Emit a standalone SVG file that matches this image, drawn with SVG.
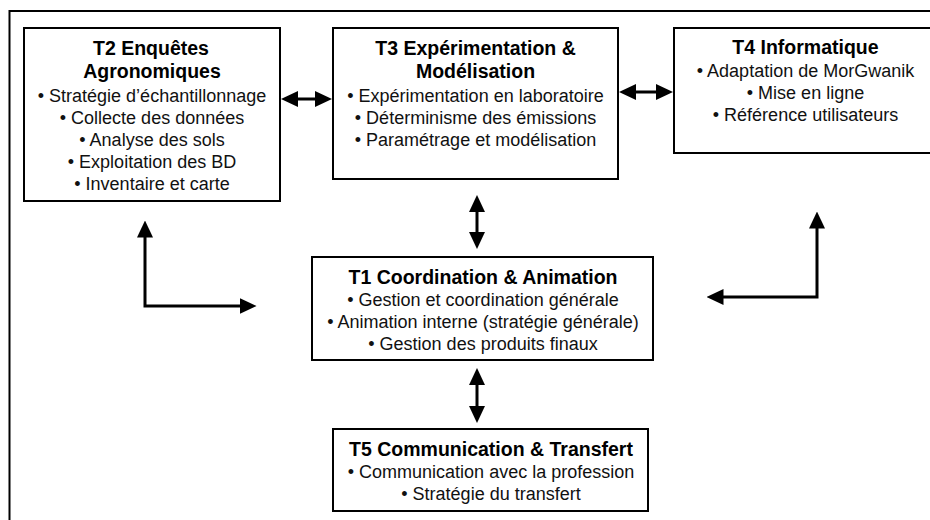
<svg xmlns="http://www.w3.org/2000/svg" width="930" height="520" viewBox="0 0 930 520">
  <style>
    .frame { fill: none; stroke: #000; stroke-width: 2; }
    .box { fill: #fff; stroke: #000; stroke-width: 2; }
    .title { font-family: "Liberation Sans", Arial, sans-serif; font-weight: bold; font-size: 19.5px; fill: #000; text-anchor: middle; }
    .item { font-family: "Liberation Sans", Arial, sans-serif; font-size: 18px; fill: #111; text-anchor: middle; }
    .conn { fill: none; stroke: #000; stroke-width: 3; }
    .dbl { marker-start: url(#head); marker-end: url(#head); }
  </style>
  <defs>
    <marker id="head" markerUnits="userSpaceOnUse" markerWidth="17" markerHeight="16" refX="8" refY="8" orient="auto-start-reverse" viewBox="0 0 17 16">
      <path d="M0,0 L17,8 L0,16 Z" fill="#000"/>
    </marker>
  </defs>
  <rect width="930" height="520" fill="#fff"/>
  <path class="frame" d="M9.5,530 L9.5,11 L940,11"/>

  <g id="T2">
    <rect class="box" x="24" y="28" width="256" height="173"/>
    <text class="title" x="151" y="55">T2 Enquêtes</text>
    <text class="title" x="152" y="78">Agronomiques</text>
    <text class="item" x="152" y="102">• Stratégie d’échantillonnage</text>
    <text class="item" x="152" y="124">• Collecte des données</text>
    <text class="item" x="152" y="146">• Analyse des sols</text>
    <text class="item" x="152" y="168">• Exploitation des BD</text>
    <text class="item" x="152" y="190">• Inventaire et carte</text>
  </g>

  <g id="T3">
    <rect class="box" x="333" y="28" width="285" height="151"/>
    <text class="title" x="475.5" y="55">T3 Expérimentation &amp;</text>
    <text class="title" x="475.5" y="78">Modélisation</text>
    <text class="item" x="475.5" y="102">• Expérimentation en laboratoire</text>
    <text class="item" x="475.5" y="124">• Déterminisme des émissions</text>
    <text class="item" x="475.5" y="146">• Paramétrage et modélisation</text>
  </g>

  <g id="T4">
    <rect class="box" x="674" y="28" width="266" height="125"/>
    <text class="title" x="805.5" y="54">T4 Informatique</text>
    <text class="item" x="805.5" y="77">• Adaptation de MorGwanik</text>
    <text class="item" x="805.5" y="99">• Mise en ligne</text>
    <text class="item" x="805.5" y="121">• Référence utilisateurs</text>
  </g>

  <g id="T1">
    <rect class="box" x="312" y="257" width="341" height="103"/>
    <text class="title" x="483" y="284">T1 Coordination &amp; Animation</text>
    <text class="item" x="483" y="306">• Gestion et coordination générale</text>
    <text class="item" x="483" y="328">• Animation interne (stratégie générale)</text>
    <text class="item" x="483" y="350">• Gestion des produits finaux</text>
  </g>

  <g id="T5">
    <rect class="box" x="333" y="429" width="315" height="82"/>
    <text class="title" x="491" y="456">T5 Communication &amp; Transfert</text>
    <text class="item" x="491" y="478">• Communication avec la profession</text>
    <text class="item" x="491" y="500">• Stratégie du transfert</text>
  </g>

  <g id="connectors">
    <path class="conn dbl" d="M290,99 L323,99"/>
    <path class="conn dbl" d="M628,92 L664,92"/>
    <path class="conn dbl" d="M477,204 L477,240"/>
    <path class="conn dbl" d="M477,377 L477,414"/>
    <path class="conn dbl" d="M145,229.5 L145,306 L247.5,306"/>
    <path class="conn dbl" d="M817,220.5 L817,297 L715.5,297"/>
  </g>
</svg>
